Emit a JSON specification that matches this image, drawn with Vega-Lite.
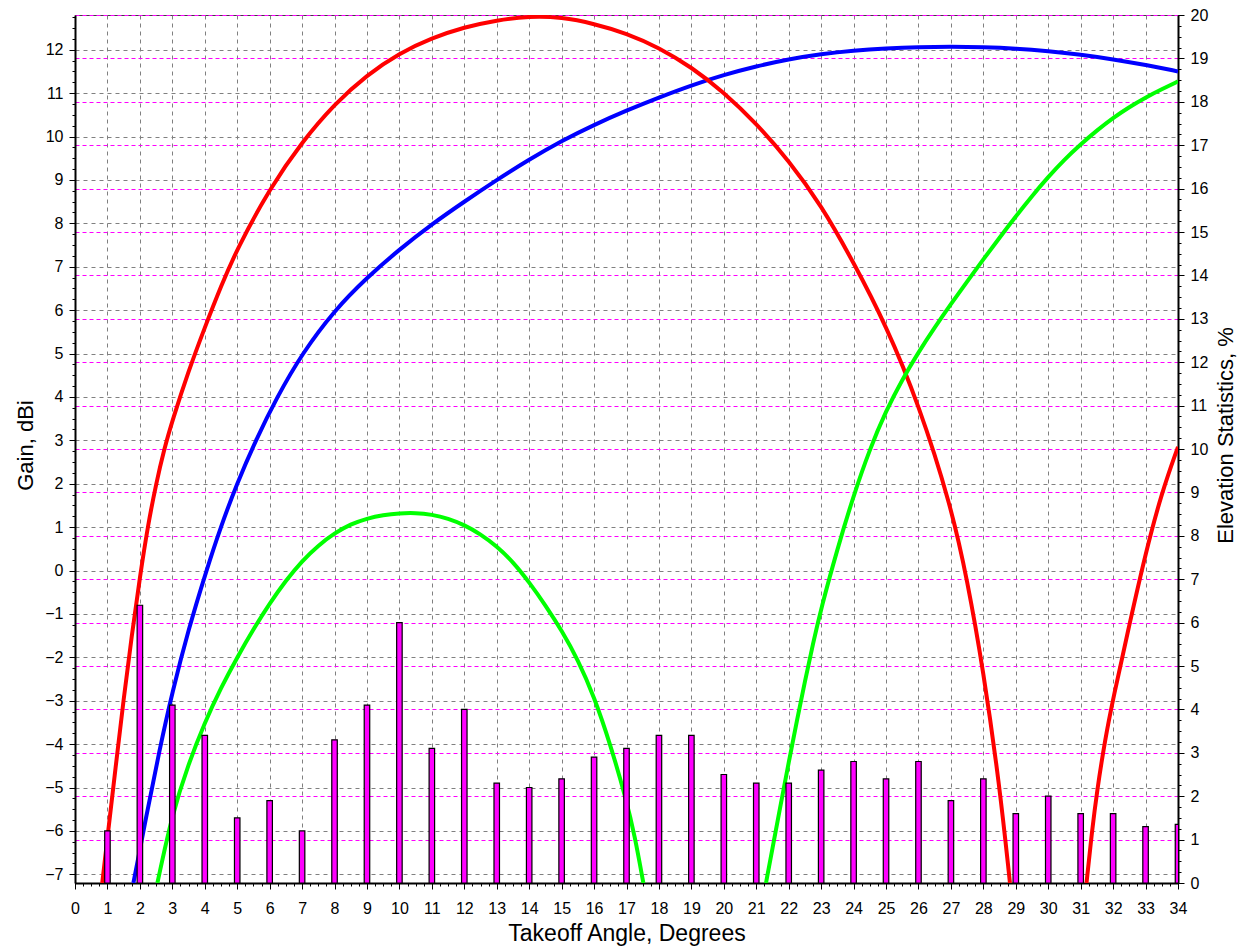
{
  "$schema": "https://vega.github.io/schema/vega-lite/v6.json",
  "width": 1103,
  "height": 868,
  "autosize": {"type": "none"},
  "padding": {"left": 75, "top": 15, "right": 63, "bottom": 63},
  "background": "#ffffff",
  "config": {
    "view": {"stroke": "#404040", "strokeWidth": 1},
    "font": "Liberation Sans",
    "axis": {
      "labelFont": "Liberation Sans", "labelFontSize": 16, "labelColor": "#000000",
      "titleFont": "Liberation Sans", "titleFontSize": 22, "titleFontWeight": "normal", "titleColor": "#000000",
      "tickColor": "#000000", "domainColor": "#000000", "labelFlush": false, "labelOverlap": false, "gridWidth": 1
    }
  },
  "datasets": {
    "bars": [
      {"angle": 1, "percent": 1.2}, {"angle": 2, "percent": 6.4}, {"angle": 3, "percent": 4.1}, {"angle": 4, "percent": 3.4},
      {"angle": 5, "percent": 1.5}, {"angle": 6, "percent": 1.9}, {"angle": 7, "percent": 1.2}, {"angle": 8, "percent": 3.3},
      {"angle": 9, "percent": 4.1}, {"angle": 10, "percent": 6.0}, {"angle": 11, "percent": 3.1}, {"angle": 12, "percent": 4.0},
      {"angle": 13, "percent": 2.3}, {"angle": 14, "percent": 2.2}, {"angle": 15, "percent": 2.4}, {"angle": 16, "percent": 2.9},
      {"angle": 17, "percent": 3.1}, {"angle": 18, "percent": 3.4}, {"angle": 19, "percent": 3.4}, {"angle": 20, "percent": 2.5},
      {"angle": 21, "percent": 2.3}, {"angle": 22, "percent": 2.3}, {"angle": 23, "percent": 2.6}, {"angle": 24, "percent": 2.8},
      {"angle": 25, "percent": 2.4}, {"angle": 26, "percent": 2.8}, {"angle": 27, "percent": 1.9}, {"angle": 28, "percent": 2.4},
      {"angle": 29, "percent": 1.6}, {"angle": 30, "percent": 2.0}, {"angle": 31, "percent": 1.6}, {"angle": 32, "percent": 1.6},
      {"angle": 33, "percent": 1.3}, {"angle": 34, "percent": 1.35}
    ],
    "curves": [
      {"series": "s1", "angle": 1.8, "gain": -7.2}, {"series": "s1", "angle": 2.2, "gain": -5.65},
      {"series": "s1", "angle": 2.6, "gain": -4.15}, {"series": "s1", "angle": 3.0, "gain": -2.8},
      {"series": "s1", "angle": 3.5, "gain": -1.35}, {"series": "s1", "angle": 4.05, "gain": 0},
      {"series": "s1", "angle": 4.49, "gain": 1}, {"series": "s1", "angle": 4.99, "gain": 2},
      {"series": "s1", "angle": 5.57, "gain": 3}, {"series": "s1", "angle": 6.23, "gain": 4},
      {"series": "s1", "angle": 7, "gain": 5}, {"series": "s1", "angle": 8, "gain": 6},
      {"series": "s1", "angle": 9, "gain": 6.75}, {"series": "s1", "angle": 10, "gain": 7.4},
      {"series": "s1", "angle": 11, "gain": 7.98}, {"series": "s1", "angle": 12, "gain": 8.5},
      {"series": "s1", "angle": 13, "gain": 9.0}, {"series": "s1", "angle": 14, "gain": 9.47},
      {"series": "s1", "angle": 15, "gain": 9.9}, {"series": "s1", "angle": 16, "gain": 10.27},
      {"series": "s1", "angle": 17, "gain": 10.6}, {"series": "s1", "angle": 18, "gain": 10.9},
      {"series": "s1", "angle": 19, "gain": 11.18}, {"series": "s1", "angle": 20, "gain": 11.42},
      {"series": "s1", "angle": 21, "gain": 11.62}, {"series": "s1", "angle": 22, "gain": 11.78},
      {"series": "s1", "angle": 23, "gain": 11.9}, {"series": "s1", "angle": 24, "gain": 11.98},
      {"series": "s1", "angle": 25, "gain": 12.03}, {"series": "s1", "angle": 26, "gain": 12.06},
      {"series": "s1", "angle": 27, "gain": 12.07}, {"series": "s1", "angle": 28, "gain": 12.06},
      {"series": "s1", "angle": 29, "gain": 12.03}, {"series": "s1", "angle": 30, "gain": 11.97},
      {"series": "s1", "angle": 31, "gain": 11.89}, {"series": "s1", "angle": 32, "gain": 11.78},
      {"series": "s1", "angle": 33, "gain": 11.65}, {"series": "s1", "angle": 34, "gain": 11.5},

      {"series": "s2", "angle": 0.84, "gain": -7.2}, {"series": "s2", "angle": 1.0, "gain": -6.15},
      {"series": "s2", "angle": 1.25, "gain": -4.55}, {"series": "s2", "angle": 1.5, "gain": -2.95},
      {"series": "s2", "angle": 1.75, "gain": -1.5}, {"series": "s2", "angle": 2.0, "gain": -0.15},
      {"series": "s2", "angle": 2.25, "gain": 1.05}, {"series": "s2", "angle": 2.5, "gain": 2.0},
      {"series": "s2", "angle": 2.75, "gain": 2.8}, {"series": "s2", "angle": 3.0, "gain": 3.45},
      {"series": "s2", "angle": 3.5, "gain": 4.6}, {"series": "s2", "angle": 4.0, "gain": 5.6},
      {"series": "s2", "angle": 4.5, "gain": 6.55}, {"series": "s2", "angle": 5, "gain": 7.42},
      {"series": "s2", "angle": 6, "gain": 8.8}, {"series": "s2", "angle": 7, "gain": 9.88},
      {"series": "s2", "angle": 8, "gain": 10.75}, {"series": "s2", "angle": 9, "gain": 11.42},
      {"series": "s2", "angle": 10, "gain": 11.92}, {"series": "s2", "angle": 11, "gain": 12.27},
      {"series": "s2", "angle": 12, "gain": 12.52}, {"series": "s2", "angle": 13, "gain": 12.68},
      {"series": "s2", "angle": 14, "gain": 12.77}, {"series": "s2", "angle": 15, "gain": 12.75},
      {"series": "s2", "angle": 16, "gain": 12.6}, {"series": "s2", "angle": 17, "gain": 12.38},
      {"series": "s2", "angle": 18, "gain": 12.05}, {"series": "s2", "angle": 19, "gain": 11.6},
      {"series": "s2", "angle": 20, "gain": 11.02}, {"series": "s2", "angle": 21, "gain": 10.3},
      {"series": "s2", "angle": 22, "gain": 9.45}, {"series": "s2", "angle": 23, "gain": 8.42},
      {"series": "s2", "angle": 24, "gain": 7.1}, {"series": "s2", "angle": 25, "gain": 5.65},
      {"series": "s2", "angle": 26, "gain": 3.85}, {"series": "s2", "angle": 27, "gain": 1.5},
      {"series": "s2", "angle": 27.5, "gain": -0.2}, {"series": "s2", "angle": 28, "gain": -2.3},
      {"series": "s2", "angle": 28.5, "gain": -4.95}, {"series": "s2", "angle": 28.82, "gain": -7.2},

      {"series": "s3", "angle": 2.54, "gain": -7.2}, {"series": "s3", "angle": 3.0, "gain": -5.6},
      {"series": "s3", "angle": 3.5, "gain": -4.45}, {"series": "s3", "angle": 4.0, "gain": -3.5},
      {"series": "s3", "angle": 4.5, "gain": -2.7}, {"series": "s3", "angle": 5.0, "gain": -2.0},
      {"series": "s3", "angle": 5.5, "gain": -1.35}, {"series": "s3", "angle": 6.0, "gain": -0.76},
      {"series": "s3", "angle": 6.5, "gain": -0.23}, {"series": "s3", "angle": 7.0, "gain": 0.22},
      {"series": "s3", "angle": 7.5, "gain": 0.58}, {"series": "s3", "angle": 8.0, "gain": 0.86},
      {"series": "s3", "angle": 8.5, "gain": 1.07}, {"series": "s3", "angle": 9.0, "gain": 1.2},
      {"series": "s3", "angle": 9.5, "gain": 1.28}, {"series": "s3", "angle": 10.0, "gain": 1.32},
      {"series": "s3", "angle": 10.5, "gain": 1.33}, {"series": "s3", "angle": 11.0, "gain": 1.29},
      {"series": "s3", "angle": 11.5, "gain": 1.2}, {"series": "s3", "angle": 12.0, "gain": 1.05},
      {"series": "s3", "angle": 12.5, "gain": 0.84}, {"series": "s3", "angle": 13.0, "gain": 0.56},
      {"series": "s3", "angle": 13.5, "gain": 0.2}, {"series": "s3", "angle": 14.0, "gain": -0.27},
      {"series": "s3", "angle": 14.5, "gain": -0.8}, {"series": "s3", "angle": 15.0, "gain": -1.38},
      {"series": "s3", "angle": 15.5, "gain": -2.05}, {"series": "s3", "angle": 16.0, "gain": -2.9},
      {"series": "s3", "angle": 16.5, "gain": -4.0}, {"series": "s3", "angle": 17.0, "gain": -5.3},
      {"series": "s3", "angle": 17.25, "gain": -6.1}, {"series": "s3", "angle": 17.52, "gain": -7.2},

      {"series": "s4", "angle": 31.18, "gain": -7.2}, {"series": "s4", "angle": 31.35, "gain": -6.0},
      {"series": "s4", "angle": 31.5, "gain": -5.1}, {"series": "s4", "angle": 31.75, "gain": -3.9},
      {"series": "s4", "angle": 32.0, "gain": -2.95}, {"series": "s4", "angle": 32.5, "gain": -1.25},
      {"series": "s4", "angle": 33.0, "gain": 0.4}, {"series": "s4", "angle": 33.5, "gain": 1.8},
      {"series": "s4", "angle": 34.0, "gain": 2.85},

      {"series": "s5", "angle": 21.3, "gain": -7.2}, {"series": "s5", "angle": 21.5, "gain": -6.4},
      {"series": "s5", "angle": 21.75, "gain": -5.4}, {"series": "s5", "angle": 22.0, "gain": -4.42},
      {"series": "s5", "angle": 22.25, "gain": -3.47}, {"series": "s5", "angle": 22.5, "gain": -2.55},
      {"series": "s5", "angle": 22.75, "gain": -1.68}, {"series": "s5", "angle": 23.0, "gain": -0.87},
      {"series": "s5", "angle": 23.5, "gain": 0.5}, {"series": "s5", "angle": 24.0, "gain": 1.73},
      {"series": "s5", "angle": 24.5, "gain": 2.8}, {"series": "s5", "angle": 25.0, "gain": 3.68},
      {"series": "s5", "angle": 25.5, "gain": 4.4}, {"series": "s5", "angle": 26.0, "gain": 5.03},
      {"series": "s5", "angle": 26.5, "gain": 5.6}, {"series": "s5", "angle": 27.0, "gain": 6.14},
      {"series": "s5", "angle": 27.5, "gain": 6.66}, {"series": "s5", "angle": 28.0, "gain": 7.17},
      {"series": "s5", "angle": 28.5, "gain": 7.67}, {"series": "s5", "angle": 29.0, "gain": 8.16},
      {"series": "s5", "angle": 29.5, "gain": 8.63}, {"series": "s5", "angle": 30.0, "gain": 9.07},
      {"series": "s5", "angle": 30.5, "gain": 9.47}, {"series": "s5", "angle": 31.0, "gain": 9.82},
      {"series": "s5", "angle": 31.5, "gain": 10.14}, {"series": "s5", "angle": 32.0, "gain": 10.43},
      {"series": "s5", "angle": 32.5, "gain": 10.68}, {"series": "s5", "angle": 33.0, "gain": 10.9},
      {"series": "s5", "angle": 33.5, "gain": 11.09}, {"series": "s5", "angle": 34.0, "gain": 11.27}
    ]
  },
  "layer": [
    {
      "data": {"name": "curves"},
      "mark": {"type": "line", "strokeWidth": 4, "interpolate": "basis", "clip": true},
      "encoding": {
        "x": {
          "field": "angle", "type": "quantitative",
          "scale": {"domain": [0, 34], "nice": false, "zero": false, "padding": 0},
          "axis": {
            "orient": "bottom",
            "values": [0,1,2,3,4,5,6,7,8,9,10,11,12,13,14,15,16,17,18,19,20,21,22,23,24,25,26,27,28,29,30,31,32,33,34],
            "grid": true, "gridColor": "#808080", "gridDash": [4, 4],
            "domainWidth": 2, "tickSize": 6, "tickWidth": 1,
            "labelBaseline": "alphabetic", "labelPadding": 24,
            "title": "Takeoff Angle, Degrees", "titleFontSize": 23, "titleBaseline": "alphabetic", "titleY": 57
          }
        },
        "y": {
          "field": "gain", "type": "quantitative",
          "scale": {"domain": [-7.2, 12.8], "nice": false, "zero": false},
          "axis": {
            "orient": "left",
            "values": [-7,-6,-5,-4,-3,-2,-1,0,1,2,3,4,5,6,7,8,9,10,11,12],
            "grid": true, "gridColor": "#808080", "gridDash": [4, 4],
            "domainWidth": 2, "tickSize": 6, "tickWidth": 1, "labelPadding": 6,
            "title": "Gain, dBi", "titleAngle": 270, "titleX": -50, "titleY": 430,
            "titleBaseline": "middle", "titleAlign": "center"
          }
        },
        "color": {
          "field": "series", "type": "nominal",
          "scale": {"domain": ["s1", "s2", "s3", "s4", "s5"], "range": ["#0000FF", "#FF0000", "#00FF00", "#FF0000", "#00FF00"]},
          "legend": null
        }
      }
    },
    {
      "data": {"name": "bars"},
      "mark": {"type": "bar", "orient": "vertical", "width": 5.5, "fill": "#FF00FF", "stroke": "#000000", "strokeWidth": 1.2, "clip": true},
      "encoding": {
        "x": {"field": "angle", "type": "quantitative", "scale": {"domain": [0, 34], "nice": false, "zero": false, "padding": 0}, "axis": null},
        "y": {
          "field": "percent", "type": "quantitative",
          "scale": {"domain": [0, 20], "nice": false},
          "axis": {
            "orient": "right",
            "values": [0,1,2,3,4,5,6,7,8,9,10,11,12,13,14,15,16,17,18,19,20],
            "grid": true, "gridColor": "#FF00FF", "gridDash": [4, 3],
            "domainWidth": 2, "tickSize": 6, "tickWidth": 1, "labelPadding": 6,
            "title": "Elevation Statistics, %", "titleAngle": 270, "titleX": 47, "titleY": 420,
            "titleBaseline": "middle", "titleAlign": "center"
          }
        }
      }
    },
    {
      "data": {"name": "curves"},
      "mark": {"type": "point", "opacity": 0},
      "encoding": {
        "x": {
          "field": "angle", "type": "quantitative", "scale": {"domain": [0, 34], "nice": false, "zero": false, "padding": 0},
          "axis": {
            "orient": "bottom", "grid": false, "domain": false, "labels": false, "title": null, "tickSize": 3,
            "values": [0,0.25,0.5,0.75,1,1.25,1.5,1.75,2,2.25,2.5,2.75,3,3.25,3.5,3.75,4,4.25,4.5,4.75,5,5.25,5.5,5.75,6,6.25,6.5,6.75,7,7.25,7.5,7.75,8,8.25,8.5,8.75,9,9.25,9.5,9.75,10,10.25,10.5,10.75,11,11.25,11.5,11.75,12,12.25,12.5,12.75,13,13.25,13.5,13.75,14,14.25,14.5,14.75,15,15.25,15.5,15.75,16,16.25,16.5,16.75,17,17.25,17.5,17.75,18,18.25,18.5,18.75,19,19.25,19.5,19.75,20,20.25,20.5,20.75,21,21.25,21.5,21.75,22,22.25,22.5,22.75,23,23.25,23.5,23.75,24,24.25,24.5,24.75,25,25.25,25.5,25.75,26,26.25,26.5,26.75,27,27.25,27.5,27.75,28,28.25,28.5,28.75,29,29.25,29.5,29.75,30,30.25,30.5,30.75,31,31.25,31.5,31.75,32,32.25,32.5,32.75,33,33.25,33.5,33.75,34]
          }
        },
        "y": {
          "field": "gain", "type": "quantitative", "scale": {"domain": [-7.2, 12.8], "nice": false, "zero": false},
          "axis": {
            "orient": "left", "grid": false, "domain": false, "labels": false, "title": null, "tickSize": 3,
            "values": [-7,-6.75,-6.5,-6.25,-6,-5.75,-5.5,-5.25,-5,-4.75,-4.5,-4.25,-4,-3.75,-3.5,-3.25,-3,-2.75,-2.5,-2.25,-2,-1.75,-1.5,-1.25,-1,-0.75,-0.5,-0.25,0,0.25,0.5,0.75,1,1.25,1.5,1.75,2,2.25,2.5,2.75,3,3.25,3.5,3.75,4,4.25,4.5,4.75,5,5.25,5.5,5.75,6,6.25,6.5,6.75,7,7.25,7.5,7.75,8,8.25,8.5,8.75,9,9.25,9.5,9.75,10,10.25,10.5,10.75,11,11.25,11.5,11.75,12,12.25,12.5,12.75]
          }
        }
      }
    },
    {
      "data": {"name": "bars"},
      "mark": {"type": "point", "opacity": 0},
      "encoding": {
        "x": {"field": "angle", "type": "quantitative", "scale": {"domain": [0, 34], "nice": false, "zero": false, "padding": 0}, "axis": null},
        "y": {
          "field": "percent", "type": "quantitative", "scale": {"domain": [0, 20], "nice": false},
          "axis": {
            "orient": "right", "grid": false, "domain": false, "labels": false, "title": null, "tickSize": 3,
            "values": [0,0.25,0.5,0.75,1,1.25,1.5,1.75,2,2.25,2.5,2.75,3,3.25,3.5,3.75,4,4.25,4.5,4.75,5,5.25,5.5,5.75,6,6.25,6.5,6.75,7,7.25,7.5,7.75,8,8.25,8.5,8.75,9,9.25,9.5,9.75,10,10.25,10.5,10.75,11,11.25,11.5,11.75,12,12.25,12.5,12.75,13,13.25,13.5,13.75,14,14.25,14.5,14.75,15,15.25,15.5,15.75,16,16.25,16.5,16.75,17,17.25,17.5,17.75,18,18.25,18.5,18.75,19,19.25,19.5,19.75,20]
          }
        }
      }
    }
  ],
  "resolve": {"scale": {"y": "independent"}, "axis": {"x": "independent", "y": "independent"}}
}
